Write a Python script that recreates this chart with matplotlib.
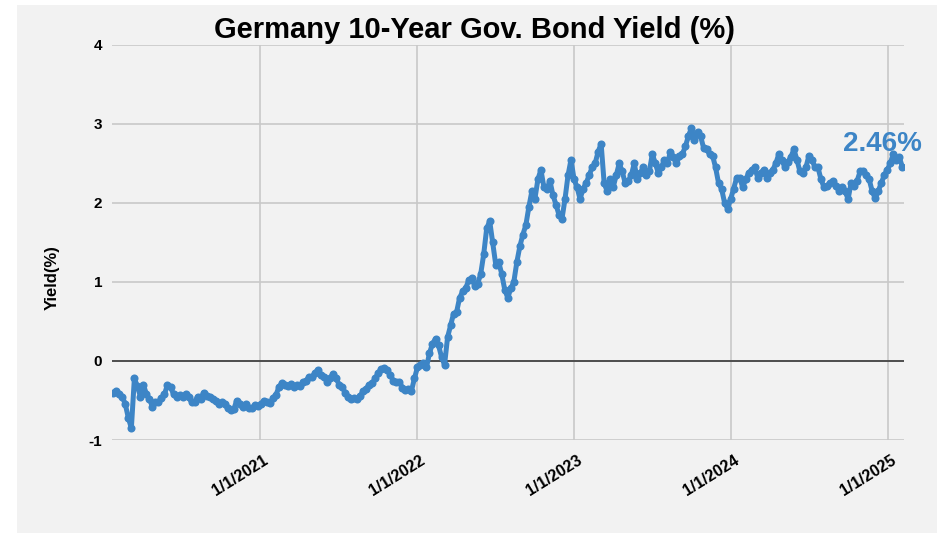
import numpy as np
import pandas as pd
import matplotlib
matplotlib.use('Agg')
import matplotlib.pyplot as plt
import matplotlib.transforms as mtransforms
from matplotlib.patches import Rectangle

plt.rcParams['font.family'] = ['Liberation Sans', 'DejaVu Sans']

# weekly readings (Mondays)
start_week = '2020-01-27'
y2020 = [-0.40, -0.38, -0.42, -0.45, -0.55, -0.72, -0.85, -0.22, -0.32, -0.45,
         -0.30, -0.42, -0.48, -0.58, -0.52, -0.52, -0.47, -0.42, -0.30, -0.33,
         -0.42, -0.45, -0.43, -0.45, -0.42, -0.46, -0.52, -0.52, -0.45, -0.48,
         -0.40, -0.44, -0.46, -0.48, -0.50, -0.55, -0.52, -0.55, -0.60, -0.62,
         -0.61, -0.50, -0.55, -0.58, -0.55, -0.60, -0.60, -0.56, -0.57]
y2021 = [-0.55, -0.50, -0.52, -0.53, -0.47, -0.43, -0.33, -0.28, -0.30, -0.32,
         -0.29, -0.33, -0.30, -0.32, -0.27, -0.25, -0.20, -0.20, -0.15, -0.11,
         -0.18, -0.20, -0.26, -0.22, -0.16, -0.22, -0.30, -0.33, -0.40, -0.45,
         -0.48, -0.47, -0.48, -0.44, -0.38, -0.35, -0.30, -0.28, -0.22, -0.15,
         -0.10, -0.09, -0.12, -0.18, -0.25, -0.27, -0.26, -0.34, -0.37, -0.35,
         -0.38, -0.22]
y2022 = [-0.08, -0.05, -0.02, -0.08, 0.10, 0.22, 0.28, 0.20, 0.05, -0.05,
         0.30, 0.45, 0.60, 0.62, 0.80, 0.88, 0.92, 1.02, 1.05, 0.95,
         0.98, 1.10, 1.35, 1.68, 1.77, 1.50, 1.22, 1.25, 1.10, 0.90,
         0.80, 0.92, 1.00, 1.25, 1.45, 1.60, 1.72, 1.95, 2.15, 2.05,
         2.30, 2.42, 2.20, 2.18, 2.28, 2.10, 1.98, 1.85, 1.80, 2.05,
         2.35, 2.55]
y2023 = [2.30, 2.20, 2.05, 2.18, 2.25, 2.35, 2.45, 2.50, 2.65, 2.75,
         2.25, 2.15, 2.30, 2.20, 2.35, 2.50, 2.40, 2.25, 2.28, 2.35,
         2.50, 2.30, 2.38, 2.45, 2.35, 2.40, 2.62, 2.50, 2.38, 2.45,
         2.55, 2.50, 2.65, 2.58, 2.50, 2.60, 2.62, 2.72, 2.85, 2.95,
         2.80, 2.90, 2.85, 2.70, 2.68, 2.62, 2.60, 2.45, 2.25, 2.18,
         2.00, 1.93]
y2024 = [2.05, 2.18, 2.32, 2.32, 2.20, 2.30, 2.38, 2.42, 2.45, 2.32,
         2.38, 2.42, 2.32, 2.38, 2.42, 2.50, 2.62, 2.55, 2.45, 2.52,
         2.58, 2.68, 2.55, 2.40, 2.38, 2.45, 2.60, 2.55, 2.45, 2.45,
         2.30, 2.20, 2.22, 2.25, 2.28, 2.22, 2.15, 2.20, 2.15, 2.05,
         2.25, 2.22, 2.28, 2.40, 2.40, 2.35, 2.30, 2.15, 2.06, 2.15,
         2.25, 2.35, 2.42]
y2025 = [2.50, 2.62, 2.55, 2.58, 2.46]

tick_dates = ['2021-01-01', '2022-01-01', '2023-01-01', '2024-01-01', '2025-01-01']
tick_labels = ['1/1/2021', '1/1/2022', '1/1/2023', '1/1/2024', '1/1/2025']
y_ticks = [-1, 0, 1, 2, 3, 4]

yields = y2020 + y2021 + y2022 + y2023 + y2024 + y2025
dates = pd.date_range(start_week, periods=len(yields), freq='W-MON')

blue = '#3d85c6'
bg = '#f2f2f2'

fig = plt.figure(figsize=(9.45, 5.33), dpi=100, facecolor='white')
# grey chart panel behind everything
fig.patches.append(Rectangle((17 / 945, 0), 920 / 945, 528 / 533,
                             transform=fig.transFigure, facecolor=bg,
                             edgecolor='none', zorder=-10))

ax = fig.add_axes([112 / 945, 1 - 440 / 533, 792 / 945, 395 / 533])
ax.set_facecolor('none')
ax.set_zorder(1)

ax.plot(dates, yields, color=blue, lw=3.6, marker='o', ms=5.8,
        markeredgewidth=0, zorder=3)

ax.set_xlim(pd.Timestamp('2020-01-24'), pd.Timestamp('2025-02-07'))
ax.set_ylim(-1, 4)

ax.set_yticks(y_ticks)
ax.set_yticklabels([str(v) for v in y_ticks], fontsize=11, fontweight='bold')
tick_pos = pd.to_datetime(tick_dates)
ax.set_xticks(tick_pos)
ax.set_xticklabels([])

# rotated date labels, right end sits a bit past the gridline
shift = mtransforms.ScaledTranslation(7 / 100, -19 / 100, fig.dpi_scale_trans)
for d, lab in zip(tick_pos, tick_labels):
    ax.text(d, 0, lab, transform=ax.get_xaxis_transform() + shift,
            rotation=32, rotation_mode='anchor', ha='right', va='center',
            fontsize=11.5, fontweight='bold')

ax.tick_params(axis='both', length=0)
ax.tick_params(axis='y', pad=7)

ax.grid(True, color='#c8c8c8', lw=1.2)
ax.set_axisbelow(True)
ax.axhline(0, color='#444444', lw=1.3, zorder=2)
for s in ax.spines.values():
    s.set_visible(False)

fig.text(475 / 945, 1 - 30 / 533, 'Germany 10-Year Gov. Bond Yield (%)',
         ha='center', va='center', fontsize=21, fontweight='bold')
fig.text(52 / 945, 1 - 278 / 533, 'Yield(%)', rotation=90, ha='center',
         va='center', fontsize=12, fontweight='bold')

ax.annotate('%.2f%%' % yields[-1], xy=(dates[-1], yields[-1]),
            xytext=(14, 11), textcoords='offset points', ha='right',
            va='baseline', color=blue, fontsize=20, fontweight='bold')

fig.savefig('out.png', dpi=100, facecolor=fig.get_facecolor())
